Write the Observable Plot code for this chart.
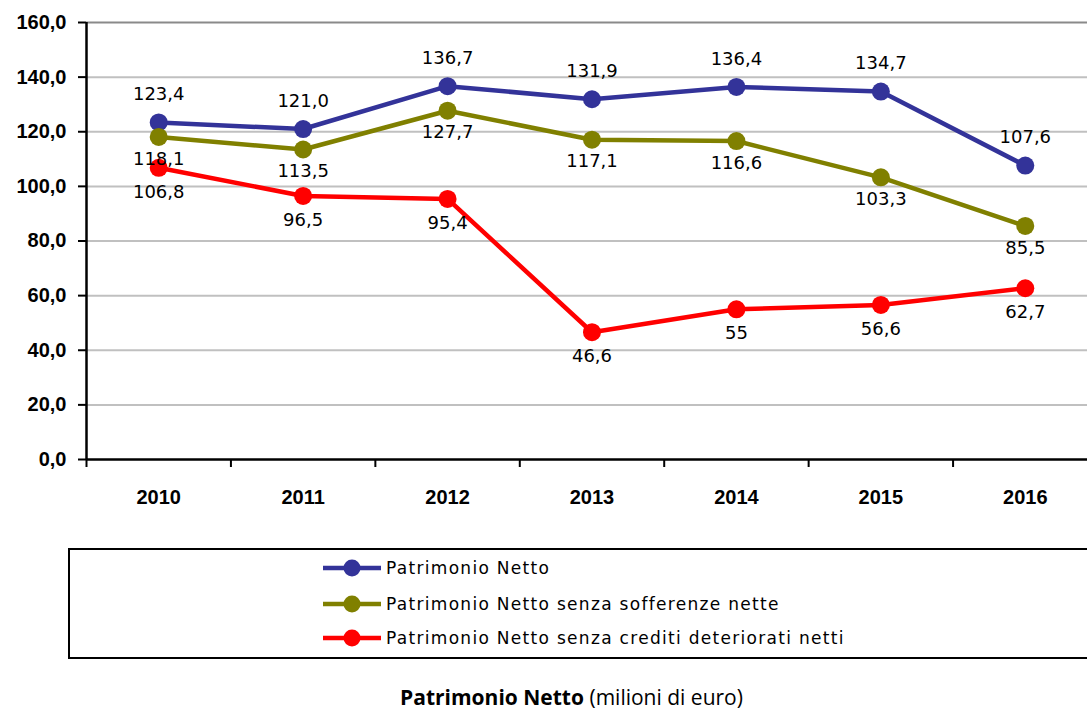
<!DOCTYPE html>
<html>
<head>
<meta charset="utf-8">
<script src="https://cdn.jsdelivr.net/npm/d3@7"></script>
<script src="https://cdn.jsdelivr.net/npm/@observablehq/plot@0.6"></script>
<style>
  html, body { margin: 0; padding: 0; background: #fff; }
  #wrap { position: relative; width: 1087px; height: 713px; overflow: hidden; }
  #chart { position: absolute; left: 0; top: 0; }
  #legend { position: absolute; left: 68px; top: 548px; width: 1060px; height: 111px; border: 2px solid #000; box-sizing: border-box; }
  .row { position: absolute; left: 252px; height: 24px; display: flex; align-items: center; font-family: "DejaVu Sans", sans-serif; font-size: 17px; letter-spacing: 1.3px; color: #000; white-space: nowrap; }
  .row svg { margin-right: 4px; }
  #caption { position: absolute; left: 0; width: 1087px; top: 686px; line-height: 22px; text-align: center; font-family: "Open Sans", sans-serif; font-size: 21px; color: #000; padding-left: 56px; box-sizing: border-box; white-space: nowrap; }
</style>
</head>
<body>
<div id="wrap">
  <div id="chart"></div>
  <div id="legend"></div>
  <div id="caption"><b>Patrimonio Netto</b> (milioni di euro)</div>
</div>
<script>
const years = [2010, 2011, 2012, 2013, 2014, 2015, 2016];
const seriesNames = [
  "Patrimonio Netto",
  "Patrimonio Netto senza sofferenze nette",
  "Patrimonio Netto senza crediti deteriorati netti"
];
const seriesColors = ["#333399", "#808000", "#ff0000"];
const patrimonioNetto = [123.4, 121.0, 136.7, 131.9, 136.4, 134.7, 107.6];
const senzaSofferenze = [118.1, 113.5, 127.7, 117.1, 116.6, 103.3, 85.5];
const senzaCrediti = [106.8, 96.5, 95.4, 46.6, 55, 56.6, 62.7];
const labelsNetto = ["123,4", "121,0", "136,7", "131,9", "136,4", "134,7", "107,6"];
const labelsSofferenze = ["118,1", "113,5", "127,7", "117,1", "116,6", "103,3", "85,5"];
const labelsCrediti = ["106,8", "96,5", "95,4", "46,6", "55", "56,6", "62,7"];
const yTicks = [0, 20, 40, 60, 80, 100, 120, 140, 160];

const seriesValues = [patrimonioNetto, senzaSofferenze, senzaCrediti];
const seriesLabels = [labelsNetto, labelsSofferenze, labelsCrediti];
const labelDy = [-28, 22, 24];

const data = seriesValues.flatMap((vals, s) =>
  vals.map((v, i) => ({series: seriesNames[s], s, year: years[i], value: v, label: seriesLabels[s][i]}))
);
const boundaries = years.map(y => y - 0.5).concat([years[years.length - 1] + 0.5]);
const fmt = d => d.toFixed(1).replace(".", ",");

const marks = [
  Plot.ruleY(yTicks.filter(d => d > 0 && d < 160), {stroke: "#c0c0c0", strokeWidth: 2}),
  Plot.ruleY([160], {stroke: "#8a8a8a", strokeWidth: 2}),
  Plot.axisY({ticks: yTicks, tickSize: 8, tickPadding: 12, tickFormat: fmt, fontSize: 20, fontWeight: "bold", fontFamily: "Liberation Sans, sans-serif", stroke: "#000", strokeWidth: 2, label: null}),
  Plot.axisX({ticks: boundaries, tickSize: 8, tickFormat: () => "", stroke: "#000", strokeWidth: 2, label: null}),
  Plot.axisX({ticks: years, tickSize: 0, tickPadding: 30, tickFormat: d => String(d), fontSize: 20, fontWeight: "bold", fontFamily: "Liberation Sans, sans-serif", label: null}),
  Plot.ruleY([0], {stroke: "#000", strokeWidth: 2.5}),
  Plot.ruleX([boundaries[0]], {y1: 0, y2: 160, stroke: "#000", strokeWidth: 2.5})
];
seriesNames.forEach((name, s) => {
  const d = data.filter(r => r.s === s);
  marks.push(Plot.line(d, {x: "year", y: "value", stroke: seriesColors[s], strokeWidth: 4.5}));
});
seriesNames.forEach((name, s) => {
  const d = data.filter(r => r.s === s);
  marks.push(Plot.dot(d, {x: "year", y: "value", r: 9, fill: seriesColors[s], stroke: "none"}));
});
seriesNames.forEach((name, s) => {
  const d = data.filter(r => r.s === s);
  marks.push(Plot.text(d, {x: "year", y: "value", text: "label", dy: labelDy[s], fontSize: 18, fill: "#000", fontFamily: "DejaVu Sans, sans-serif"}));
});

const chart = Plot.plot({
  width: 1087,
  height: 540,
  marginTop: 22,
  marginBottom: 81,
  marginLeft: 86,
  marginRight: 0,
  style: {background: "#fff", overflow: "visible"},
  x: {type: "linear", domain: [boundaries[0], boundaries[boundaries.length - 1]], range: [86, 1097]},
  y: {domain: [0, 160], range: [459, 22]},
  marks
});
document.getElementById("chart").appendChild(chart);

const legend = document.getElementById("legend");
const rowTops = [6, 42, 76];
seriesNames.forEach((name, s) => {
  const row = document.createElement("div");
  row.className = "row";
  row.style.top = rowTops[s] + "px";
  row.innerHTML = `<svg width="60" height="20"><line x1="1" x2="59" y1="10" y2="10" stroke="${seriesColors[s]}" stroke-width="4.5"/><circle cx="30" cy="10" r="8.5" fill="${seriesColors[s]}"/></svg><span>${name}</span>`;
  legend.appendChild(row);
});
</script>
</body>
</html>
